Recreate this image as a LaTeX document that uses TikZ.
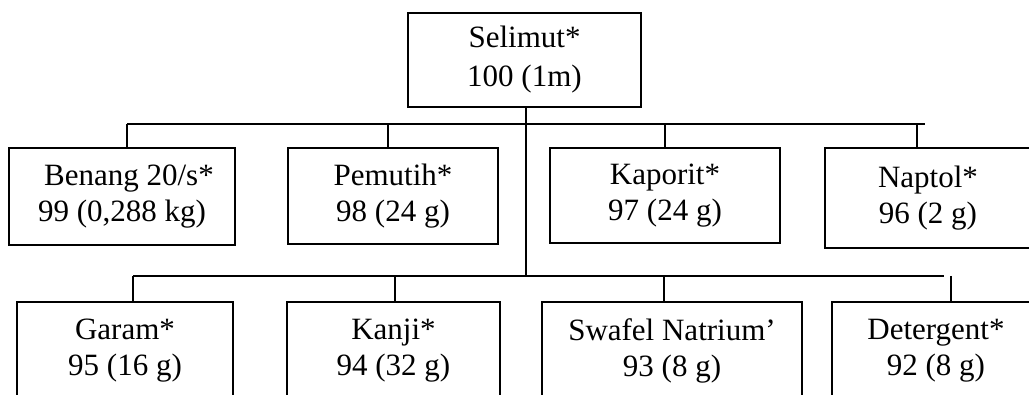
\documentclass[tikz,border=0pt]{standalone}
\usepackage{fontspec}
\setmainfont{Liberation Serif}
\begin{document}
\begin{tikzpicture}[x=1pt,y=-1pt,
  box/.style={draw, line width=1.5pt, inner sep=0pt, align=center,
    font=\fontsize{31}{36}\selectfont},
  conn/.style={draw, line width=1.5pt}]
\useasboundingbox (0,0) rectangle (1029,395);
\clip (0,0) rectangle (1029,395);
% row 1
\node[box, minimum width=233pt, minimum height=94pt, font=\fontsize{31}{39}\selectfont] (top) at (524.5,60) {Selimut*\\100 (1m)};
% row 2
\node[box, minimum width=226pt, minimum height=97pt] (benang) at (122,196.5) {\hspace*{14pt}Benang 20/s*\\99 (0,288 kg)};
\node[box, minimum width=210pt, minimum height=96pt] (pemutih) at (393,196) {Pemutih*\\98 (24 g)};
\node[box, minimum width=230pt, minimum height=95pt] (kaporit) at (665,195.5) {Kaporit*\\97 (24 g)};
\node[box, minimum width=206pt, minimum height=100pt] (naptol) at (928,198) {Naptol*\\96 (2 g)};
% row 3
\node[box, minimum width=216pt, minimum height=97pt] (garam) at (125,350.5) {Garam*\\95 (16 g)};
\node[box, minimum width=213pt, minimum height=97pt] (kanji) at (393.5,350.5) {Kanji*\\94 (32 g)};
\node[box, minimum width=260pt, minimum height=97pt] (swafel) at (672,350.5) {Swafel Natrium'\\93 (8 g)};
\node[box, minimum width=208pt, minimum height=97pt] (deterg) at (936,350.5) {Detergent*\\92 (8 g)};
% junctions
\coordinate (j2) at (526,124);
\coordinate (j3) at (526,276);
\coordinate (b2a) at (127,124);
\coordinate (b2b) at (388,124);
\coordinate (b2c) at (665,124);
\coordinate (b2d) at (917,124);
\coordinate (b2e) at (925,124);
\coordinate (b3a) at (133,276);
\coordinate (b3b) at (395,276);
\coordinate (b3c) at (664,276);
\coordinate (b3e) at (944,276);
\coordinate (b3d) at (951,276);
% connectors
\draw[conn] (top.south -| j2) -- (j3);
\draw[conn] (b2a) -- (b2e);
\draw[conn] (b2a) -- (b2a |- benang.north);
\draw[conn] (b2b) -- (b2b |- pemutih.north);
\draw[conn] (b2c) -- (b2c |- kaporit.north);
\draw[conn] (b2d) -- (b2d |- naptol.north);
\draw[conn] (b3a) -- (b3e);
\draw[conn] (b3a) -- (b3a |- garam.north);
\draw[conn] (b3b) -- (b3b |- kanji.north);
\draw[conn] (b3c) -- (b3c |- swafel.north);
\draw[conn] (b3d) -- (b3d |- deterg.north);
\end{tikzpicture}
\end{document}
